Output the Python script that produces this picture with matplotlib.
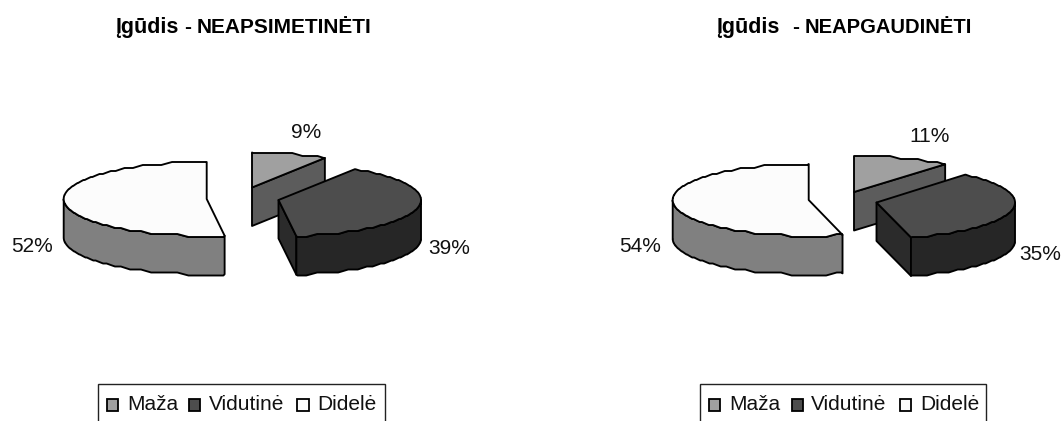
import numpy as np
import matplotlib
matplotlib.use("Agg")
import matplotlib.pyplot as plt
from matplotlib.patches import Polygon, Rectangle

plt.rcParams['font.family'] = ['Liberation Sans', 'DejaVu Sans']

categories = ['Maža', 'Vidutinė', 'Didelė']
left_title = ['Įgūdis', '-', 'NEAPSIMETINĖTI']
left_values = [9, 39, 52]
right_title = ['Įgūdis', '-', 'NEAPGAUDINĖTI']
right_values = [11, 35, 54]

TOP = ['#a0a0a0', '#4d4d4d', '#fcfcfc']
WALL = ['#5c5c5c', '#262626', '#808080']
CUT = ['#5c5c5c', '#2b2b2b', '#808080']
EDGE = '#000000'
LW = 1.35
DEPTH = 38.5

fig = plt.figure(figsize=(10.62, 4.21), dpi=100)
ax = fig.add_axes([0, 0, 1, 1])
ax.set_xlim(0, 1062)
ax.set_ylim(421, 0)
ax.axis('off')


def rim(cx, cy, rx, ry, a0, a1):
    """Rim points of a slice; angles in degrees, clockwise from 12 o'clock."""
    a = np.radians(np.linspace(a0, a1, max(int(abs(a1 - a0) * 2), 2) + 1))
    x = cx + rx * np.sin(a)
    y = cy - ry * np.cos(a)
    # a coarse grid followed by a short running mean gives the scalloped edge
    qy = np.round(y / 3.0) * 3.0
    n = 9
    pad = np.pad(qy, n // 2, mode='edge')
    sy = np.convolve(pad, np.ones(n) / n, mode='valid')
    sy[0], sy[-1] = y[0], y[-1]
    return np.column_stack([x, sy])


def slice3d(cx, cy, rx, ry, a0, a1, i):
    pts = rim(cx, cy, rx, ry, a0, a1)
    apex = np.array([cx, cy])
    drop = np.array([0, DEPTH])
    kw = dict(ec=EDGE, lw=LW, joinstyle='round')
    # the radius ending in the right half faces the viewer
    if a1 < 180:
        ax.add_patch(Polygon([apex, pts[-1], pts[-1] + drop, apex + drop], fc=CUT[i], **kw))
    # outer wall: only the part of the rim on the near side of the ellipse
    lo, hi = max(a0, 90), min(a1, 270)
    if hi > lo:
        wall = rim(cx, cy, rx, ry, lo, hi)
        ax.add_patch(Polygon(np.vstack([wall, (wall + drop)[::-1]]), fc=WALL[i], **kw))
    # top face
    ax.add_patch(Polygon(np.vstack([apex, pts]), fc=TOP[i], **kw))


def pie3d(values, geom):
    edges = np.cumsum([0] + list(values)) * 3.6
    for i in range(3):
        cx, cy, rx, ry = geom[i]
        slice3d(cx, cy, rx, ry, edges[i], edges[i + 1], i)


def legend(x0, x1, marks, text_x):
    ax.add_patch(Rectangle((x0, 384), x1 - x0, 60, fc='white', ec='#222222', lw=1.0))
    for mx, tx, name, c in zip(marks, text_x, categories, TOP):
        ax.add_patch(Rectangle((mx, 398.5), 11.5, 12, fc=c, ec=EDGE, lw=1.3))
        ax.text(tx, 404, name, fontsize=15, ha='left', va='center', color='#111111')


def title(parts, xs, sizes):
    for part, x, size in zip(parts, xs, sizes):
        ax.text(x, 33, part, fontsize=size, fontweight='bold', ha='left', va='baseline')


pie3d(left_values, [(252, 187.5, 136, 35), (278.5, 200, 142.5, 36.5), (206.7, 199, 143, 37)])
pie3d(right_values, [(854, 192, 143, 36), (876.5, 202.5, 138.5, 36), (808.7, 200, 136, 36)])

title(left_title, [115, 184, 196.5], [15.5, 15, 15])
title(right_title, [716, 792, 805], [15.5, 15, 14.5])

for (x, y), v in zip([(306, 132), (449, 248), (32, 246)], left_values):
    ax.text(x, y, f'{v}%', fontsize=15, ha='center', va='center', color='#111111')
for (x, y), v in zip([(930, 137), (1040, 254), (640, 247)], right_values):
    ax.text(x, y, f'{v}%', fontsize=15, ha='center', va='center', color='#111111')

legend(98, 384.5, [106.5, 188.5, 297], [127, 209, 317])
legend(700, 986, [708.5, 791.5, 899.5], [729.5, 811, 920])

fig.savefig('out.png', dpi=100, facecolor='white')
